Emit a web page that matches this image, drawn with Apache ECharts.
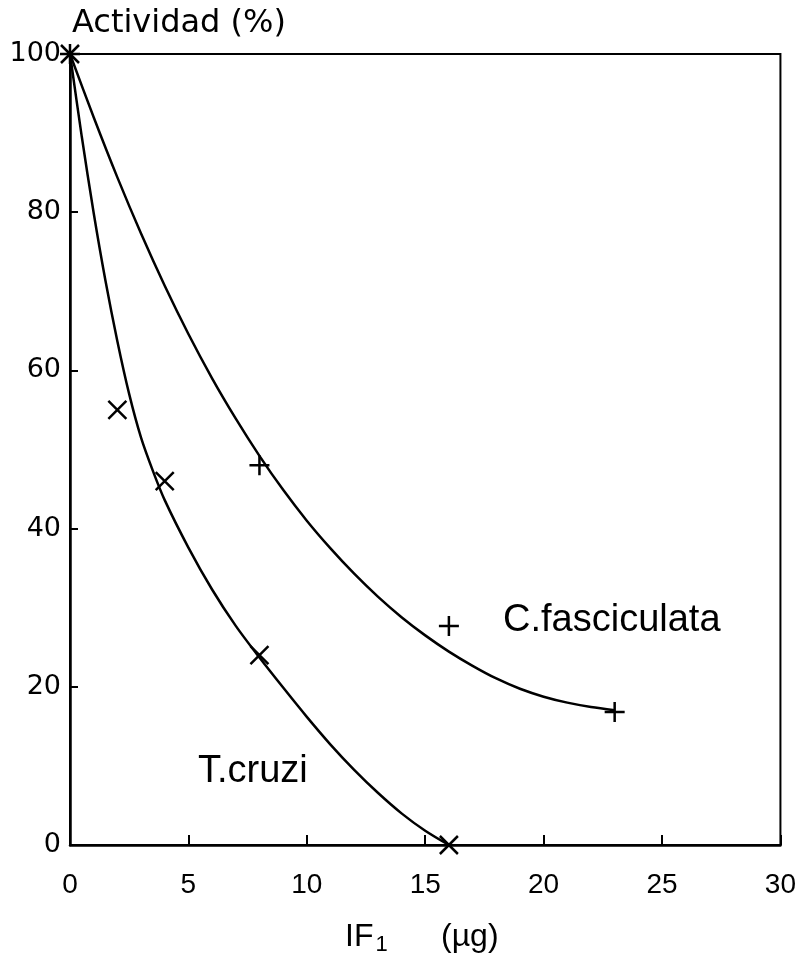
<!DOCTYPE html>
<html>
<head>
<meta charset="utf-8">
<script src="https://cdn.jsdelivr.net/npm/echarts@6/dist/echarts.min.js"></script>
<style>
  html, body { margin: 0; padding: 0; background: #fff; }
  #chart { width: 799px; height: 965px; }
</style>
</head>
<body>
<div id="chart"></div>
<script>
// ejes
const xTicks = [0, 5, 10, 15, 20, 25, 30];
const yTicks = [0, 20, 40, 60, 80, 100];

// puntos medidos
const cruziPts = [[0, 100], [2, 55], [4, 46], [8, 24], [16, 0]];
const fascPts = [[0, 100], [8, 48], [16, 27.7], [23, 16.8]];

// curvas ajustadas
const cruziCurveX = [0, 0.5, 1, 1.5, 2, 2.5, 3, 3.5, 4, 5, 6, 7, 8, 9, 10, 11, 12, 13, 14, 15, 16];
const cruziCurveY = [100, 89.5, 79.9, 71.3, 63.7, 57.0, 51.5, 47.3, 43.6, 37.6, 32.3, 27.7, 23.7, 19.9, 16.2, 12.7, 9.5, 6.6, 4.0, 1.8, 0];
const fascCurveX = [0, 1, 2, 3, 4, 5, 6, 7, 8, 9, 10, 11, 12, 13, 14, 15, 16, 17, 18, 19, 20, 21, 22, 23];
const fascCurveY = [100, 92, 84.4, 77.3, 70.7, 64.6, 59, 53.9, 49.2, 44.9, 41, 37.5, 34.3, 31.4, 28.8, 26.5, 24.45, 22.65, 21.05, 19.75, 18.75, 18.0, 17.45, 17.05];

const zip = (xs, ys) => xs.map((x, i) => [x, ys[i]]);

const chart = echarts.init(document.getElementById('chart'));

const crossX = 'path://M0,0L10,10M10,0L0,10';
const crossPlus = 'path://M5,0L5,10M0,5L10,5';

const markStyle = { color: 'transparent', borderColor: '#000', borderWidth: 2.5, opacity: 1 };

chart.setOption({
  animation: false,
  backgroundColor: '#fff',
  grid: {
    left: 70, right: 18, top: 54, bottom: 120,
    show: true, borderColor: '#000', borderWidth: 2
  },
  xAxis: {
    type: 'value', min: 0, max: 30, interval: 5,
    axisLine: { lineStyle: { color: '#000', width: 2.5 } },
    axisTick: { inside: true, length: 10, lineStyle: { color: '#000', width: 2 } },
    splitLine: { show: false },
    axisLabel: {
      color: '#000', fontFamily: 'Liberation Sans', fontSize: 28, margin: 26,
      formatter: v => xTicks.includes(v) ? String(v) : ''
    }
  },
  yAxis: {
    type: 'value', min: 0, max: 100, interval: 20,
    axisLine: { lineStyle: { color: '#000', width: 2.5 } },
    axisTick: { inside: true, length: 8, lineStyle: { color: '#000', width: 2 } },
    splitLine: { show: false },
    axisLabel: {
      color: '#000', fontFamily: 'DejaVu Sans', fontSize: 27, margin: 9,
      formatter: v => yTicks.includes(v) ? String(v) : ''
    }
  },
  graphic: [
    { type: 'text', left: 72, top: 8, style: { text: 'Actividad (%)', font: '32px DejaVu Sans', fill: '#000' } },
    { type: 'text', left: 503, top: 602, style: { text: 'C.fasciculata', font: '38px Liberation Sans', fill: '#000' } },
    { type: 'text', left: 198, top: 753, style: { text: 'T.cruzi', font: '38px Liberation Sans', fill: '#000' } },
    {
      type: 'text', left: 345, top: 921,
      style: {
        text: '{a|IF}{s|1}{a|      (µg)}',
        rich: {
          a: { font: '32px Liberation Sans', fill: '#000' },
          s: { font: '22px Liberation Sans', fill: '#000', padding: [16, 0, 0, 2] }
        }
      }
    }
  ],
  series: [
    {
      type: 'line', data: zip(cruziCurveX, cruziCurveY), smooth: 0.3, showSymbol: false,
      lineStyle: { color: '#000', width: 2.5 }
    },
    {
      type: 'line', data: zip(fascCurveX, fascCurveY), smooth: 0.3, showSymbol: false,
      lineStyle: { color: '#000', width: 2.5 }
    },
    {
      type: 'scatter', data: cruziPts, symbol: crossX, symbolSize: 18,
      itemStyle: markStyle
    },
    {
      type: 'scatter', data: fascPts, symbol: crossPlus, symbolSize: 20,
      itemStyle: markStyle
    }
  ]
});
</script>
</body>
</html>
